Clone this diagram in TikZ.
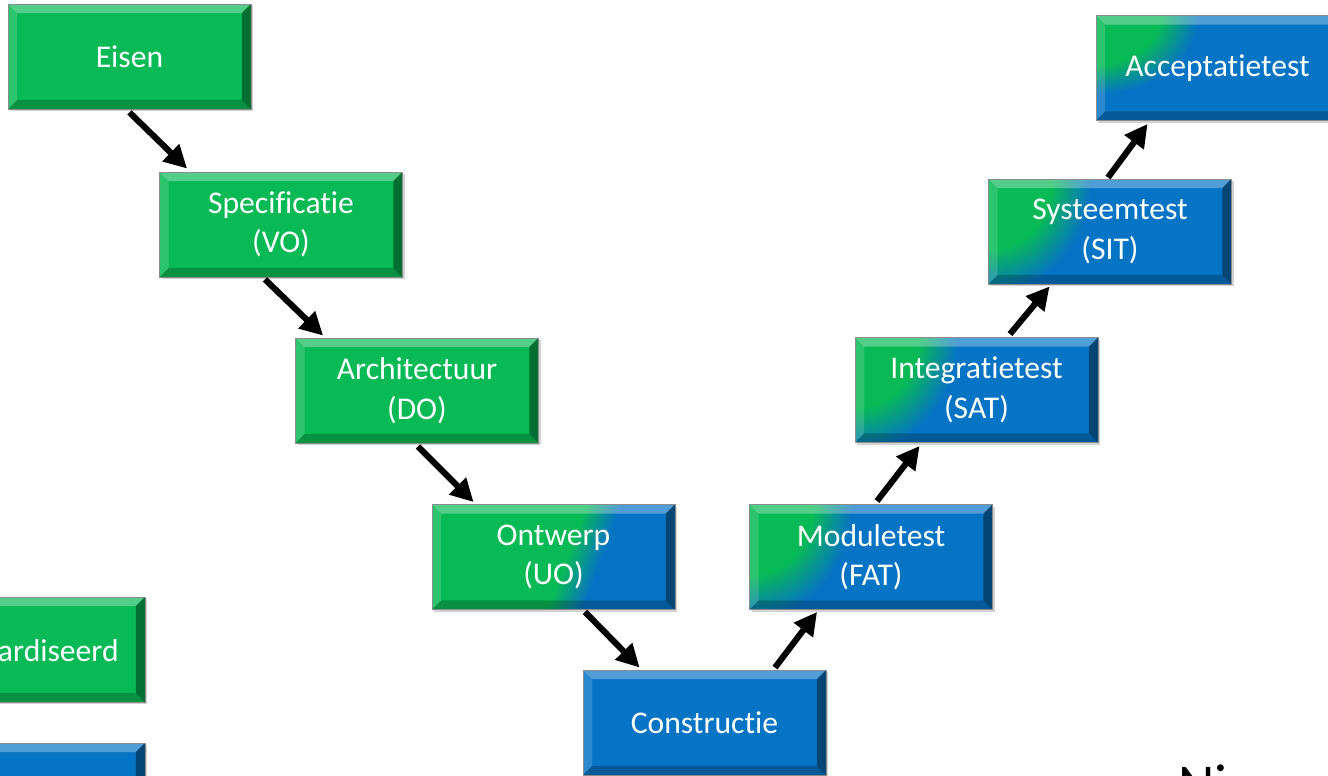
\documentclass[tikz,border=0pt]{standalone}
\usepackage{fontspec}
\setmainfont{Carlito}[Ligatures=NoCommon]
\usetikzlibrary{calc,shadows,arrows.meta}

\definecolor{vgreen}{RGB}{8,186,86}
\definecolor{vblue}{RGB}{6,116,196}

\pgfdeclarehorizontalshading{greenblue}{100bp}{color(0bp)=(vgreen); color(53bp)=(vgreen); color(61bp)=(vblue); color(100bp)=(vblue)}

\newcommand{\bevelpic}{%
  \coordinate (pnw) at (path picture bounding box.north west);
  \coordinate (pne) at (path picture bounding box.north east);
  \coordinate (psw) at (path picture bounding box.south west);
  \coordinate (pse) at (path picture bounding box.south east);
  \fill[white, opacity=.3] (pnw) -- (pne) -- ([shift={(-0.18cm,-0.18cm)}]pne) -- ([shift={(0.18cm,-0.18cm)}]pnw) -- cycle;
  \fill[white, opacity=.15] (pnw) -- ([shift={(0.18cm,-0.18cm)}]pnw) -- ([shift={(0.18cm,0.18cm)}]psw) -- (psw) -- cycle;
  \fill[black, opacity=.4] (pne) -- (pse) -- ([shift={(-0.18cm,0.18cm)}]pse) -- ([shift={(-0.18cm,-0.18cm)}]pne) -- cycle;
  \fill[black, opacity=.22] (psw) -- (pse) -- ([shift={(-0.18cm,0.18cm)}]pse) -- ([shift={(0.18cm,0.18cm)}]psw) -- cycle;
}
% green corner glow, outer rings blue, inner rings green
\newcommand{\glowpic}[1]{%
  \foreach \k [evaluate=\k as \rx using {(0.8-0.3*\k/20)*2.6},
               evaluate=\k as \ry using {(0.8-0.3*\k/20)*#1},
               evaluate=\k as \p using {int(100*\k/20)}] in {0,...,20}
    \fill[vgreen!\p!vblue] (path picture bounding box.north west) ellipse [x radius=\rx cm, y radius=\ry cm];
}

\tikzset{
  stage/.style={rectangle, minimum width=4.86cm, minimum height=2.1cm, inner sep=0pt,
    align=center, text=white, font=\fontsize{18pt}{22.5pt}\selectfont,
    draw=black!45, line width=0.5pt,
    drop shadow={shadow xshift=1.2pt, shadow yshift=-1.2pt, opacity=.35},
    path picture={\bevelpic}},
  greenstage/.style={stage, fill=vgreen},
  bluestage/.style={stage, fill=vblue},
  mixstage/.style={stage, shading=greenblue, shading angle=-20},
  glowstage/.style={stage, fill=vblue, path picture={\glowpic{#1}\bevelpic}},
  glowstage/.default=2.9,
  flow/.style={line width=3.5pt, -{Triangle[length=13pt,width=13pt]}}
}

\begin{document}
\begin{tikzpicture}[x=0.02cm, y=-0.02cm]
  \useasboundingbox (0,0) rectangle (1328,776);
  \fill[white] (0,0) rectangle (1328,776);
  \clip (0,0) rectangle (1328,776);

  % left branch
  \node[greenstage] (eisen) at (129.5,56.5) {Eisen};
  \node[greenstage] (spec) at (281,224.5) {Specificatie\\(VO)};
  \node[greenstage] (arch) at (417,390.5) {Architectuur\\(DO)};
  \node[mixstage] (ontwerp) at (553.5,557) {Ontwerp\\(UO)};
  \node[bluestage] (constr) at (704.5,722.5) {Constructie};

  % right branch
  \node[glowstage] (module) at (871,557) {Moduletest\\(FAT)};
  \node[glowstage] (integ) at (976.5,390) {Integratietest\\(SAT)};
  \node[glowstage] (systeem) at (1110,231.5) {Systeemtest\\(SIT)};
  \node[glowstage=2.0] (accept) at (1217.5,68) {Acceptatietest};

  % legend, cut off at the left
  \node[greenstage] (std) at (23.5,649.5) {};
  \node[anchor=base east, inner sep=0pt, text=white, font=\fontsize{18pt}{22.5pt}\selectfont] (stdtext) at (119,661) {ardiseerd};
  \node[bluestage] (maat) at (23.5,795.5) {};

  \node[anchor=base west, inner sep=0pt, font=\fontsize{32pt}{38pt}\selectfont] (niveau) at (1178,803) {Ni};

  \draw[flow] ($(eisen.south)+(0,3)$) -- ($(spec.north west)+(28,-3)$);
  \draw[flow] ($(spec.south)+(-16,2)$) -- ($(arch.north west)+(28,-2)$);
  \draw[flow] ($(arch.south)+(1,3)$) -- ($(ontwerp.north west)+(42,-2)$);
  \draw[flow] ($(ontwerp.south)+(31.5,2)$) -- ($(constr.north west)+(57,-2)$);
  \draw[flow] ($(constr.north)+(70.5,-2)$) -- ($(module.south west)+(68,2)$);
  \draw[flow] ($(module.north)+(6,-3)$) -- ($(integ.south west)+(65,3)$);
  \draw[flow] ($(integ.north)+(33.5,-3)$) -- ($(systeem.south west)+(61.5,2)$);
  \draw[flow] ($(systeem.north)+(-2,-1)$) -- ($(accept.south west)+(52,3)$);
\end{tikzpicture}
\end{document}
